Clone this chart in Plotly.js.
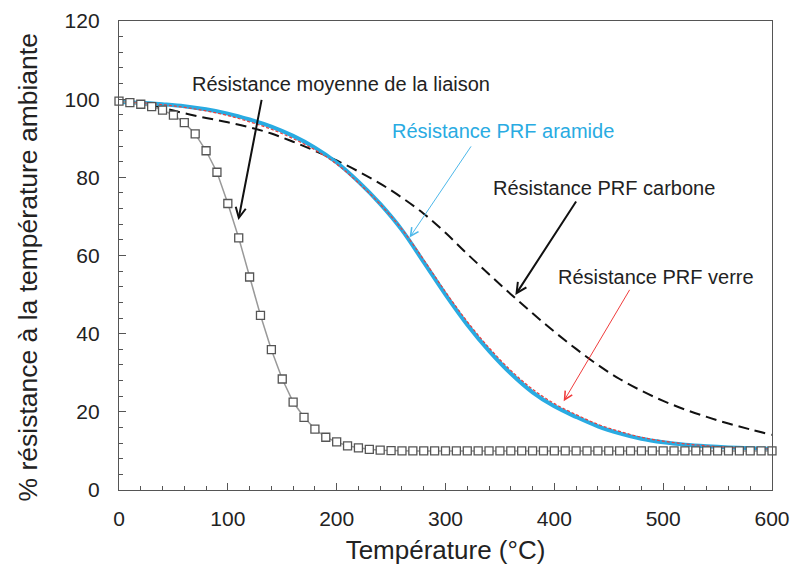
<!DOCTYPE html>
<html>
<head>
<meta charset="utf-8">
<script src="https://cdn.plot.ly/plotly-3.0.1.min.js"></script>
<style>html,body{margin:0;padding:0;background:#fff;}#chart{width:792px;height:569px;}</style>
</head>
<body>
<div id="chart"></div>
<script>
// Bond strength (squares), every 10 °C
const bondT = [0,10,20,30,40,50,60,70,80,90,100,110,120,130,140,150,160,170,180,190,200,210,220,230,240,250,260,270,280,290,300,310,320,330,340,350,360,370,380,390,400,410,420,430,440,450,460,470,480,490,500,510,520,530,540,550,560,570,580,590,600];
const bondV = [99.5,99.1,98.7,98.1,97.2,95.9,94.0,91.1,86.8,81.3,73.3,64.5,54.5,44.7,35.9,28.4,22.5,18.6,15.6,13.5,12.3,11.3,10.8,10.4,10.2,10.1,10.0,10.0,10.0,10.0,10.0,10.0,10.0,10.0,10.0,10.0,10.0,10.0,10.0,10.0,10.0,10.0,10.0,10.0,10.0,10.0,10.0,10.0,10.0,10.0,10.0,10.0,10.0,10.0,10.0,10.0,10.0,10.0,10.0,10.0,10.0];

// FRP curves, every 20 °C
const frpT = [0,20,40,60,80,100,120,140,160,180,200,220,240,260,280,300,320,340,360,380,400,420,440,460,480,500,520,540,560,580,600];
const carbonV = [99.5,99.0,97.8,96.4,95.2,94.1,92.8,91.2,89.1,86.8,84.3,81.5,78.4,74.8,70.7,65.8,60.4,55.2,50.1,45.2,40.5,36.1,32.0,28.4,25.4,22.8,20.6,18.7,17.0,15.5,14.1];
const aramidV = [99.3,99.1,98.7,98.2,97.4,96.3,94.8,93.0,90.6,87.6,83.8,78.9,73.2,66.5,58.3,50.0,42.3,35.6,29.8,25.0,21.4,18.7,16.3,14.5,13.1,12.2,11.6,11.2,10.9,10.7,10.5];
const glassV = [99.3,99.1,98.6,97.9,97.0,95.8,94.2,92.3,89.9,87.0,83.4,78.6,73.1,66.7,58.9,50.7,43.1,36.4,30.6,25.8,22.1,19.3,16.8,15.0,13.5,12.5,11.8,11.3,10.9,10.7,10.5];

const xTicks = [0,100,200,300,400,500,600];
const yTicks = [0,20,40,60,80,100,120];

const xTitle = "Température (°C)";
const yTitle = "% résistance à la température ambiante";

const labels = ["Résistance moyenne de la liaison","Résistance PRF aramide","Résistance PRF carbone","Résistance PRF verre"];
const labelPos = [[204,103.8],[352.7,91.9],[445.4,77.4],[493.7,54.6]];
const arrowTail = [[131.3,100.2],[324.4,88.3],[420.9,74.2],[470,51.6]];
const arrowTip = [[109.7,69.1],[267,64.6],[364.2,49.9],[408.6,22.7]];
const labelColors = ["#222222","#29abe2","#222222","#222222"];
const arrowColors = ["#111111","#4db8ea","#111111","#f03c3c"];
const arrowWidths = [2,1,2,1];

const FONT = "Liberation Sans, Arial, Helvetica, sans-serif";

const traces = [
  {x: frpT, y: carbonV, mode: "lines", line: {color: "#111111", width: 2, dash: "11px,6px", shape: "spline"}, hoverinfo: "skip"},
  {x: frpT, y: aramidV, mode: "lines", line: {color: "#29abe2", width: 4, shape: "spline"}, hoverinfo: "skip"},
  {x: frpT, y: glassV, mode: "lines", line: {color: "#e8413f", width: 1.2, dash: "3px,2px", shape: "spline"}, hoverinfo: "skip"},
  {x: bondT, y: bondV, mode: "lines+markers", cliponaxis: false,
   line: {color: "#999999", width: 1.5},
   marker: {symbol: "square", size: 8, color: "#ffffff", line: {color: "#555555", width: 1.3}}, hoverinfo: "skip"}
];

const annotations = [];
for (let i = 0; i < labels.length; i++) {
  annotations.push({x: labelPos[i][0], y: labelPos[i][1], xref: "x", yref: "y", text: labels[i], showarrow: false,
    font: {family: FONT, size: 20, color: labelColors[i]}, xanchor: "center", yanchor: "middle"});
  annotations.push({x: arrowTip[i][0], y: arrowTip[i][1], xref: "x", yref: "y", ax: arrowTail[i][0], ay: arrowTail[i][1],
    axref: "x", ayref: "y", text: "", showarrow: true, arrowhead: 5, arrowsize: arrowWidths[i] > 1 ? 1 : 1.6,
    arrowwidth: arrowWidths[i], arrowcolor: arrowColors[i], standoff: 0, startstandoff: 0});
}
// y-axis title drawn as rotated text, centred where the reference puts it
annotations.push({xref: "paper", yref: "paper", x: -0.139, y: 0.475, text: yTitle, showarrow: false, textangle: -90,
  font: {family: FONT, size: 26.5, color: "#222222"}, xanchor: "center", yanchor: "middle"});

const axisCommon = {
  showgrid: false, zeroline: false, showline: true, linecolor: "#555555", linewidth: 1.2, mirror: true,
  ticks: "inside", ticklen: 7, tickcolor: "#555555", tickwidth: 1,
  tickfont: {family: FONT, size: 21, color: "#222222"}
};

const layout = {
  width: 792, height: 569,
  margin: {l: 119, r: 20, t: 21, b: 79},
  paper_bgcolor: "#ffffff", plot_bgcolor: "#ffffff",
  showlegend: false, hovermode: false,
  xaxis: Object.assign({}, axisCommon, {
    range: [0, 600], tickvals: xTicks, ticktext: xTicks.map(String), ticklabelstandoff: 10,
    minor: {dtick: 20, ticks: "inside", ticklen: 4, tickcolor: "#555555"},
    title: {text: xTitle, font: {family: FONT, size: 26, color: "#222222"}, standoff: 11}
  }),
  yaxis: Object.assign({}, axisCommon, {
    range: [0, 120], tickvals: yTicks, ticktext: yTicks.map(String), ticklabelstandoff: 14,
    minor: {dtick: 4, ticks: "inside", ticklen: 4, tickcolor: "#555555"}
  }),
  annotations: annotations
};

Plotly.newPlot("chart", traces, layout, {displayModeBar: false, staticPlot: true});
</script>
</body>
</html>
